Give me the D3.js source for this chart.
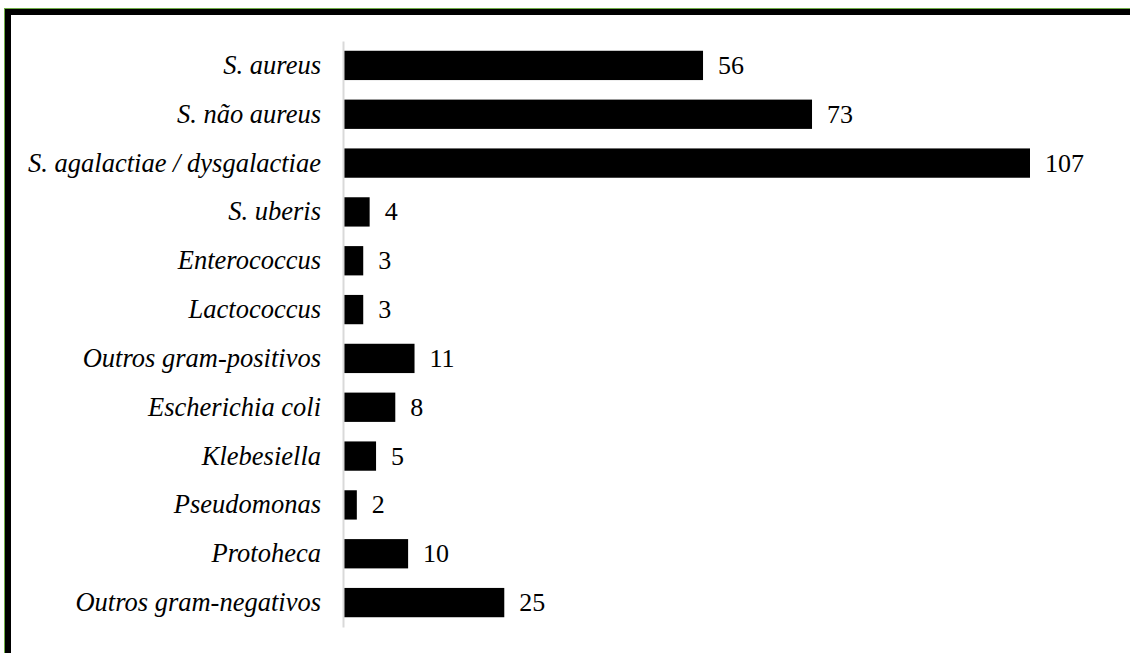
<!DOCTYPE html>
<html>
<head>
<meta charset="utf-8">
<script src="https://cdn.jsdelivr.net/npm/d3@7"></script>
<style>
  html, body { margin: 0; padding: 0; background: #fff; }
  svg { display: block; }
</style>
</head>
<body>
<svg id="chart" width="1130" height="653"></svg>
<script>
// Isolated pathogens: category names and counts
const categories = [
  "S. aureus",
  "S. não aureus",
  "S. agalactiae / dysgalactiae",
  "S. uberis",
  "Enterococcus",
  "Lactococcus",
  "Outros gram-positivos",
  "Escherichia coli",
  "Klebesiella",
  "Pseudomonas",
  "Protoheca",
  "Outros gram-negativos"
];
const counts = [56, 73, 107, 4, 3, 3, 11, 8, 5, 2, 10, 25];

const svg = d3.select("#chart");
const W = 1130, H = 653;

// Frame: thin green edge outside a heavy black border
svg.append("rect")
  .attr("x", 4.5).attr("y", 8.5)
  .attr("width", W + 20).attr("height", H + 20)
  .attr("fill", "none").attr("stroke", "#70ad47").attr("stroke-width", 1);
svg.append("rect")
  .attr("x", 8).attr("y", 12)
  .attr("width", W + 20).attr("height", H + 20)
  .attr("fill", "none").attr("stroke", "#000").attr("stroke-width", 6);

const x = d3.scaleLinear().domain([0, 107]).range([344, 1030]);
const y = d3.scaleBand().domain(categories).range([41, 627])
  .paddingInner(0.4).paddingOuter(0.2);

const serif = '"Liberation Serif", "Times New Roman", serif';

// Bars
svg.append("g").selectAll("rect")
  .data(categories)
  .join("rect")
  .attr("x", x(0))
  .attr("y", d => y(d))
  .attr("width", (d, i) => x(counts[i]) - x(0))
  .attr("height", y.bandwidth())
  .attr("fill", "#000");

// Category axis (line only, no ticks)
const yAxis = svg.append("g")
  .attr("transform", `translate(${x(0) - 1},0)`)
  .call(d3.axisLeft(y).tickSize(0).tickPadding(22));
yAxis.select(".domain").attr("stroke", "#d9d9d9").attr("stroke-width", 2);
yAxis.selectAll("text")
  .style("font-family", serif)
  .style("font-style", "italic")
  .style("font-size", "26.5px")
  .attr("fill", "#000");

// Value labels at bar ends
svg.append("g").selectAll("text")
  .data(categories)
  .join("text")
  .attr("x", (d, i) => x(counts[i]) + 15)
  .attr("y", d => y(d) + y.bandwidth() / 2)
  .attr("dy", "0.33em")
  .style("font-family", serif)
  .style("font-size", "26px")
  .attr("fill", "#000")
  .text((d, i) => counts[i]);
</script>
</body>
</html>
